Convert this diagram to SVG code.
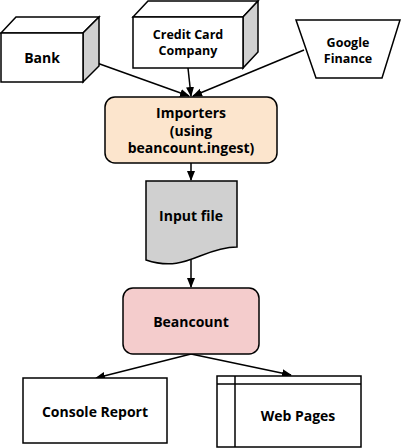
<svg xmlns="http://www.w3.org/2000/svg" width="401" height="448" viewBox="0 0 401 448">
<style>
.s{stroke:#000;stroke-width:1.5;stroke-linejoin:miter}
.w{fill:#fff}
.g{fill:#d0d0d0}
text{font-family:"Open Sans","DejaVu Sans",sans-serif;font-weight:bold;font-size:14px;text-anchor:middle;fill:#000}
text.sm{font-size:12.5px}
.e{fill:none;stroke:#000;stroke-width:1.5}
</style>
<defs>
<marker id="a" markerWidth="10" markerHeight="10" refX="9" refY="5" orient="auto" markerUnits="userSpaceOnUse">
<path d="M0,1 L10,5 L0,9 Z" fill="#000"/>
</marker>
</defs>
<rect width="401" height="448" fill="#fff"/>
<g id="edges">
<line class="e" x1="83" y1="58" x2="189" y2="96" marker-end="url(#a)"/>
<line class="e" x1="188" y1="68" x2="191" y2="96" marker-end="url(#a)"/>
<line class="e" x1="304" y1="50" x2="193" y2="96" marker-end="url(#a)"/>
<line class="e" x1="191" y1="163" x2="191" y2="180" marker-end="url(#a)"/>
<line class="e" x1="191" y1="258" x2="191" y2="287" marker-end="url(#a)"/>
<line class="e" x1="191" y1="354" x2="96" y2="378" marker-end="url(#a)"/>
<line class="e" x1="191" y1="354" x2="291" y2="375" marker-end="url(#a)"/>
</g>
<g id="bank">
<path class="s w" d="M1,33 L16,17 L99,17 L83,33 Z"/>
<path class="s g" d="M83,33 L99,17 L99,66 L83,82 Z"/>
<rect class="s w" x="1" y="33" width="82" height="49"/>
<text x="42" y="63">Bank</text>
</g>
<g id="credit">
<path class="s w" d="M133,17 L148,1 L258,1 L243,17 Z"/>
<path class="s g" d="M243,17 L258,1 L258,52 L243,68 Z"/>
<rect class="s w" x="133" y="17" width="110" height="51"/>
<text class="sm" x="188" y="39">Credit Card</text>
<text class="sm" x="188" y="55">Company</text>
</g>
<g id="google">
<path class="s w" d="M296,20 L400,20 L382,78 L316,78 Z"/>
<text class="sm" x="348" y="46.5">Google</text>
<text class="sm" x="348" y="62.5">Finance</text>
</g>
<g id="importers">
<rect class="s" x="105" y="97" width="172" height="66" rx="10" fill="#fce5cd"/>
<text x="191" y="118">Importers</text>
<text x="191" y="135.5">(using</text>
<text x="191" y="153">beancount.ingest)</text>
</g>
<g id="inputfile">
<path class="s g" d="M146,181 H237 V247 C225,247 215,250 200,256 C185,262 170,268 146,260 Z"/>
<text x="191" y="221">Input file</text>
</g>
<g id="beancount">
<rect class="s" x="123" y="288" width="136" height="66" rx="10" fill="#f4cccc"/>
<text x="191" y="327">Beancount</text>
</g>
<g id="console">
<rect class="s w" x="23" y="378" width="144" height="65"/>
<text x="95" y="417">Console Report</text>
</g>
<g id="web">
<rect class="s w" x="217" y="376" width="144" height="71"/>
<line class="e" x1="217" y1="384" x2="361" y2="384"/>
<line class="e" x1="235" y1="376" x2="235" y2="447"/>
<text x="298" y="421">Web Pages</text>
</g>
</svg>
